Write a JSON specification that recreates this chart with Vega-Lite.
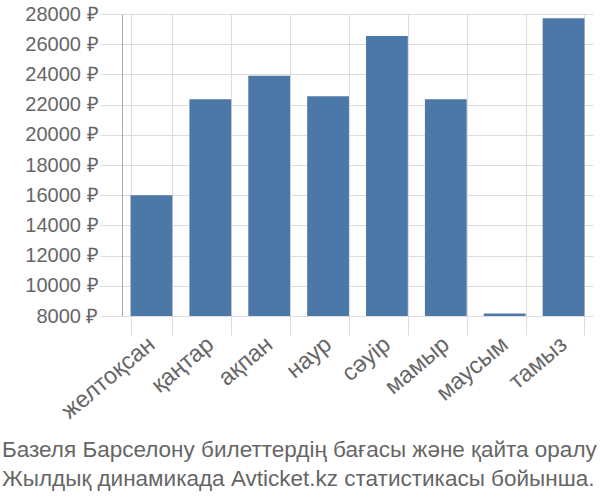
{
  "$schema": "https://vega.github.io/schema/vega-lite/v6.json",
  "width": 471,
  "height": 302,
  "padding": {"left": 2, "top": 4, "right": 7, "bottom": 5},
  "background": "white",
  "config": {
    "font": "Liberation Sans",
    "view": {"stroke": null}
  },
  "title": {
    "text": ["Базеля Барселону билеттердің бағасы және қайта оралу", "Жылдық динамикада Avticket.kz статистикасы бойынша."],
    "orient": "bottom",
    "anchor": "start",
    "frame": "group",
    "dx": -120,
    "offset": 16,
    "fontSize": 22.5,
    "fontWeight": "normal",
    "color": "#666666",
    "lineHeight": 29
  },
  "data": {
    "values": [
      {"month": "желтоқсан", "price": 15990},
      {"month": "қаңтар", "price": 22350},
      {"month": "ақпан", "price": 23910},
      {"month": "наур", "price": 22545},
      {"month": "сәуір", "price": 26540},
      {"month": "мамыр", "price": 22350},
      {"month": "маусым", "price": 8160},
      {"month": "тамыз", "price": 27715}
    ]
  },
  "mark": {"type": "bar", "color": "#4c78a8", "clip": true},
  "encoding": {
    "x": {
      "field": "month",
      "type": "nominal",
      "sort": null,
      "title": null,
      "scale": {"paddingInner": 0.29, "paddingOuter": 0.145},
      "axis": {
        "labelAngle": -40,
        "labelFontSize": 23.5,
        "labelColor": "#666666",
        "labelAlign": "right",
        "labelBaseline": "middle",
        "tickBand": "extent",
        "tickSize": 19,
        "tickColor": "#dddddd",
        "grid": true,
        "gridColor": "#dddddd",
        "domain": false,
        "labelPadding": 6
      }
    },
    "y": {
      "field": "price",
      "type": "quantitative",
      "title": null,
      "scale": {"domain": [8000, 28000], "zero": false, "nice": false},
      "axis": {
        "values": [8000, 10000, 12000, 14000, 16000, 18000, 20000, 22000, 24000, 26000, 28000],
        "labelExpr": "datum.value + ' ₽'",
        "labelFontSize": 20,
        "labelColor": "#666666",
        "tickSize": 22,
        "tickColor": "#dddddd",
        "gridColor": "#dddddd",
        "domainColor": "#aaaaaa",
        "labelPadding": 2
      }
    }
  }
}
